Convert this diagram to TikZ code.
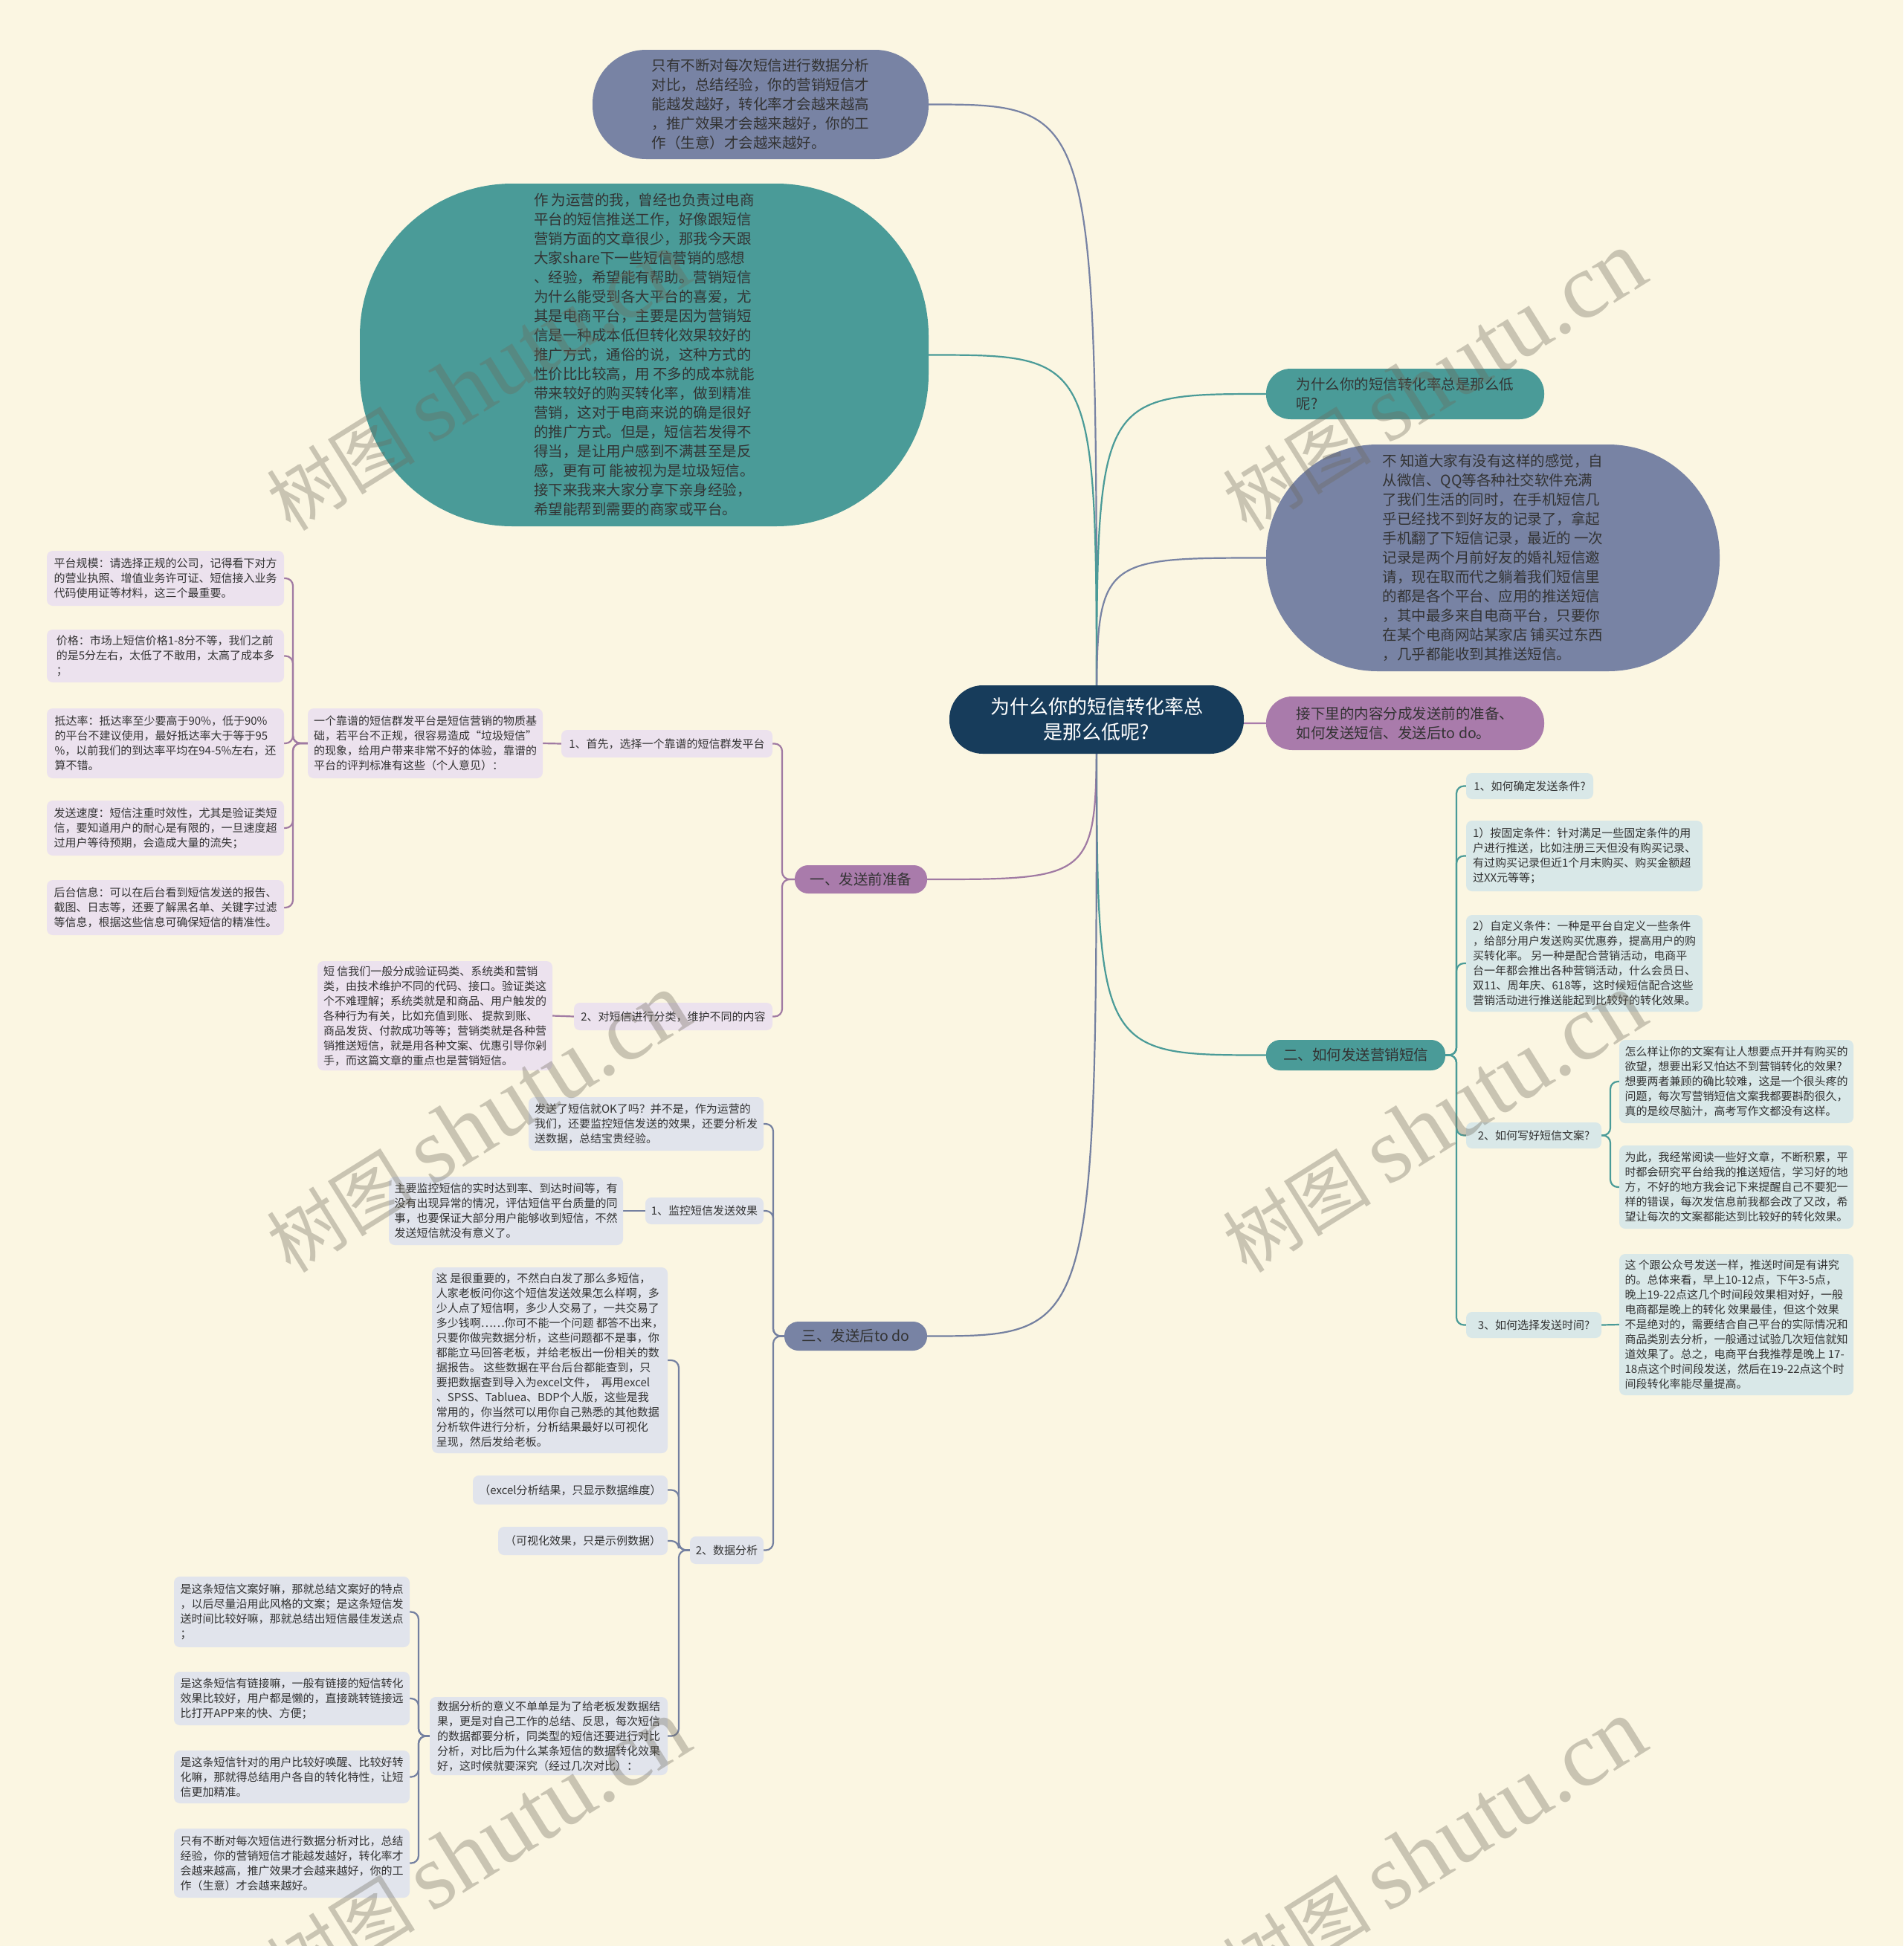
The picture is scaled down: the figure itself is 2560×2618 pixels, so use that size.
\documentclass[tikz,border=0pt]{standalone}
\usepackage{fontspec}
\setmainfont{Noto Sans CJK SC}
\newfontfamily\wmlatin{Liberation Serif}
\definecolor{bgc}{HTML}{FBF6E2}
\definecolor{slatec}{HTML}{7883A4}
\definecolor{tealc}{HTML}{4A9B98}
\definecolor{navyc}{HTML}{173C5B}
\definecolor{purpc}{HTML}{A97BAB}
\definecolor{purpline}{HTML}{A07AA3}
\definecolor{slateline}{HTML}{7480A0}
\definecolor{leafP}{HTML}{ECE2EE}
\definecolor{leafS}{HTML}{E1E4EC}
\definecolor{leafT}{HTML}{D9E8E8}
\definecolor{txt}{HTML}{333333}
\definecolor{wmc}{HTML}{6E695A}
\pgfdeclarelayer{back}\pgfdeclarelayer{bg}\pgfdeclarelayer{fg}\pgfsetlayers{back,bg,main,fg}
\tikzset{
  box/.style={inner sep=0pt, outer sep=0pt, align=left, text=txt},
  bigtxt/.style={font=\fontsize{19.5}{26}\selectfont},
  smtxt/.style={font=\fontsize{15}{20}\selectfont},
  leafp/.style={box, smtxt, fill=leafP, rounded corners=8pt},
  leafs/.style={box, smtxt, fill=leafS, rounded corners=8pt},
  leaft/.style={box, smtxt, fill=leafT, rounded corners=8pt},
  mainline/.style={line width=2.2pt},
  brk/.style={line width=2.2pt, rounded corners=10pt},
  wm/.style={text=wmc, text opacity=0.35, rotate=32, inner sep=0pt}
}
\begin{document}
\begin{tikzpicture}[x=1pt,y=-1pt]
\useasboundingbox (0,0) rectangle (2560,2618);
\begin{pgfonlayer}{back}
\fill[bgc] (0,0) rectangle (2560,2618);
\end{pgfonlayer}

% ---------- central and top-level nodes ----------
\node[box, fill=navyc, text=white, rounded corners=45pt, minimum width=396, minimum height=92, align=center, font=\fontsize{26}{34}\selectfont] (c) at (1475,968) {为什么你的短信转化率总\\是那么低呢?};

\node[box, bigtxt, fill=slatec, rounded corners=72pt, minimum width=452, minimum height=147] (top) at (1023,140.5) {只有不断对每次短信进行数据分析\\对比，总结经验，你的营销短信才\\能越发越好，转化率才会越来越高\\，推广效果才会越来越好，你的工\\作（生意）才会越来越好。};

\node[box, bigtxt, fill=tealc, rounded corners=205pt, minimum width=765, minimum height=461] (ell) at (866.5,477.5) {作 为运营的我，曾经也负责过电商\\平台的短信推送工作，好像跟短信\\营销方面的文章很少，那我今天跟\\大家share下一些短信营销的感想\\、经验，希望能有帮助。营销短信\\为什么能受到各大平台的喜爱，尤\\其是电商平台，主要是因为营销短\\信是一种成本低但转化效果较好的\\推广方式，通俗的说，这种方式的\\性价比比较高，用 不多的成本就能\\带来较好的购买转化率，做到精准\\营销，这对于电商来说的确是很好\\的推广方式。但是，短信若发得不\\得当，是让用户感到不满甚至是反\\感，更有可 能被视为是垃圾短信。\\接下来我来大家分享下亲身经验，\\希望能帮到需要的商家或平台。};

\node[box, bigtxt, fill=tealc, rounded corners=33pt, minimum width=374, minimum height=68] (q) at (1890,530) {为什么你的短信转化率总是那么低\\呢?};

\node[box, bigtxt, fill=slatec, rounded corners=150pt, minimum width=610, minimum height=305] (sl) at (2008,750.5) {不 知道大家有没有这样的感觉，自\\从微信、QQ等各种社交软件充满\\了我们生活的同时，在手机短信几\\乎已经找不到好友的记录了，拿起\\手机翻了下短信记录，最近的 一次\\记录是两个月前好友的婚礼短信邀\\请，现在取而代之躺着我们短信里\\的都是各个平台、应用的推送短信\\，其中最多来自电商平台，只要你\\在某个电商网站某家店 铺买过东西\\，几乎都能收到其推送短信。};

\node[box, bigtxt, fill=purpc, rounded corners=35pt, minimum width=374, minimum height=72] (pp) at (1890,973) {接下里的内容分成发送前的准备、\\如何发送短信、发送后to do。};

\node[box, bigtxt, fill=purpc, rounded corners=18pt, minimum width=178, minimum height=38, align=center] (b1) at (1158,1183) {一、发送前准备};
\node[box, bigtxt, fill=tealc, rounded corners=19pt, minimum width=241, minimum height=41, align=center] (b2) at (1823.5,1419.5) {二、如何发送营销短信};
\node[box, bigtxt, fill=slatec, rounded corners=19pt, minimum width=192, minimum height=39, align=center] (b3) at (1151,1797.5) {三、发送后to do};

% ---------- branch 1 ----------
\node[leafp, minimum width=284, minimum height=37] (a1) at (897,1000.5) {1、首先，选择一个靠谱的短信群发平台};
\node[leafp, minimum width=267, minimum height=37] (a2) at (905.5,1367.5) {2、对短信进行分类，维护不同的内容};
\node[leafp, minimum width=316, minimum height=94] (a1t) at (572,1000) {一个靠谱的短信群发平台是短信营销的物质基\\础，若平台不正规，很容易造成“垃圾短信”\\的现象，给用户带来非常不好的体验，靠谱的\\平台的评判标准有这些（个人意见）：};
\node[leafp, minimum width=319, minimum height=74] (p1) at (222.5,778) {平台规模：请选择正规的公司，记得看下对方\\的营业执照、增值业务许可证、短信接入业务\\代码使用证等材料，这三个最重要。};
\node[leafp, minimum width=319, minimum height=71] (p2) at (222.5,882.5) {价格：市场上短信价格1-8分不等，我们之前\\的是5分左右，太低了不敢用，太高了成本多\\；};
\node[leafp, minimum width=319, minimum height=94] (p3) at (222.5,1000) {抵达率：抵达率至少要高于90\%，低于90\%\\的平台不建议使用，最好抵达率大于等于95\\\%，以前我们的到达率平均在94-5\%左右，还\\算不错。};
\node[leafp, minimum width=319, minimum height=74] (p4) at (222.5,1114) {发送速度：短信注重时效性，尤其是验证类短\\信，要知道用户的耐心是有限的，一旦速度超\\过用户等待预期，会造成大量的流失；};
\node[leafp, minimum width=319, minimum height=74] (p5) at (222.5,1221) {后台信息：可以在后台看到短信发送的报告、\\截图、日志等，还要了解黑名单、关键字过滤\\等信息，根据这些信息可确保短信的精准性。};
\node[leafp, minimum width=316, minimum height=147] (a2t) at (585,1366.5) {短 信我们一般分成验证码类、系统类和营销\\类，由技术维护不同的代码、接口。验证类这\\个不难理解；系统类就是和商品、用户触发的\\各种行为有关，比如充值到账、 提款到账、\\商品发货、付款成功等等；营销类就是各种营\\销推送短信，就是用各种文案、优惠引导你剁\\手，而这篇文章的重点也是营销短信。};

% ---------- branch 3 ----------
\node[leafs, minimum width=316, minimum height=72] (s0) at (869,1512) {发送了短信就OK了吗？并不是，作为运营的\\我们，还要监控短信发送的效果，还要分析发\\送数据，总结宝贵经验。};
\node[leafs, minimum width=159, minimum height=36] (s1) at (947.5,1629) {1、监控短信发送效果};
\node[leafs, minimum width=315, minimum height=92] (s1t) at (680.5,1629) {主要监控短信的实时达到率、到达时间等，有\\没有出现异常的情况，评估短信平台质量的同\\事，也要保证大部分用户能够收到短信，不然\\发送短信就没有意义了。};
\node[leafs, minimum width=99, minimum height=37] (s2) at (977.5,2085.5) {2、数据分析};
\node[leafs, minimum width=317, minimum height=250] (s2a) at (739.5,1830) {这 是很重要的，不然白白发了那么多短信，\\人家老板问你这个短信发送效果怎么样啊，多\\少人点了短信啊，多少人交易了，一共交易了\\多少钱啊……你可不能一个问题 都答不出来，\\只要你做完数据分析，这些问题都不是事，你\\都能立马回答老板，并给老板出一份相关的数\\据报告。 这些数据在平台后台都能查到，只\\要把数据查到导入为excel文件，\ \ 再用excel\\、SPSS、Tabluea、BDP个人版，这些是我\\常用的，你当然可以用你自己熟悉的其他数据\\分析软件进行分析，分析结果最好以可视化\\呈现，然后发给老板。};
\node[leafs, minimum width=262, minimum height=39] (s2b) at (767,2004.5) {（excel分析结果，只显示数据维度）};
\node[leafs, minimum width=228, minimum height=38] (s2c) at (784,2073) {（可视化效果，只是示例数据）};
\node[leafs, minimum width=320, minimum height=105] (s2d) at (738,2335.5) {数据分析的意义不单单是为了给老板发数据结\\果，更是对自己工作的总结、反思，每次短信\\的数据都要分析，同类型的短信还要进行对比\\分析，对比后为什么某条短信的数据转化效果\\好，这时候就要深究（经过几次对比）：};
\node[leafs, minimum width=317, minimum height=95] (d1) at (392.5,2168.5) {是这条短信文案好嘛，那就总结文案好的特点\\，以后尽量沿用此风格的文案；是这条短信发\\送时间比较好嘛，那就总结出短信最佳发送点\\；};
\node[leafs, minimum width=317, minimum height=72] (d2) at (392.5,2285) {是这条短信有链接嘛，一般有链接的短信转化\\效果比较好，用户都是懒的，直接跳转链接远\\比打开APP来的快、方便；};
\node[leafs, minimum width=317, minimum height=71] (d3) at (392.5,2390.5) {是这条短信针对的用户比较好唤醒、比较好转\\化嘛，那就得总结用户各自的转化特性，让短\\信更加精准。};
\node[leafs, minimum width=317, minimum height=93] (d4) at (392.5,2506.5) {只有不断对每次短信进行数据分析对比，总结\\经验，你的营销短信才能越发越好，转化率才\\会越来越高，推广效果才会越来越好，你的工\\作（生意）才会越来越好。};

% ---------- branch 2 ----------
\node[leaft, minimum width=171, minimum height=35] (t1) at (2057.5,1057.5) {1、如何确定发送条件?};
\node[leaft, minimum width=318, minimum height=95] (t2) at (2131,1151.5) {1）按固定条件：针对满足一些固定条件的用\\户进行推送，比如注册三天但没有购买记录、\\有过购买记录但近1个月末购买、购买金额超\\过XX元等等；};
\node[leaft, minimum width=318, minimum height=130] (t3) at (2131,1296) {2）自定义条件：一种是平台自定义一些条件\\，给部分用户发送购买优惠券，提高用户的购\\买转化率。 另一种是配合营销活动，电商平\\台一年都会推出各种营销活动，什么会员日、\\双11、周年庆、618等，这时候短信配合这些\\营销活动进行推送能起到比较好的转化效果。};
\node[leaft, minimum width=182, minimum height=35] (t4) at (2063,1527.5) {2、如何写好短信文案?};
\node[leaft, minimum width=315, minimum height=112] (t4a) at (2335.5,1455) {怎么样让你的文案有让人想要点开并有购买的\\欲望，想要出彩又怕达不到营销转化的效果?\\想要两者兼顾的确比较难，这是一个很头疼的\\问题，每次写营销短信文案我都要斟酌很久，\\真的是绞尽脑汁，高考写作文都没有这样。};
\node[leaft, minimum width=315, minimum height=112] (t4b) at (2335.5,1597) {为此，我经常阅读一些好文章，不断积累，平\\时都会研究平台给我的推送短信，学习好的地\\方，不好的地方我会记下来提醒自己不要犯一\\样的错误，每次发信息前我都会改了又改，希\\望让每次的文案都能达到比较好的转化效果。};
\node[leaft, minimum width=182, minimum height=35] (t5) at (2063,1782.5) {3、如何选择发送时间?};
\node[leaft, minimum width=315, minimum height=190] (t5a) at (2335.5,1782) {这 个跟公众号发送一样，推送时间是有讲究\\的。总体来看，早上10-12点，下午3-5点，\\晚上19-22点这几个时间段效果相对好，一般\\电商都是晚上的转化 效果最佳，但这个效果\\不是绝对的，需要结合自己平台的实际情况和\\商品类别去分析，一般通过试验几次短信就知\\道效果了。总之，电商平台我推荐是晚上 17-\\18点这个时间段发送，然后在19-22点这个时\\间段转化率能尽量提高。};

% ---------- connectors ----------
\begin{pgfonlayer}{bg}
\draw[mainline, slatec] (c.center) .. controls (c.center |- top.east) and (c.center |- top.east) .. (top.east);
\draw[mainline, tealc] (c.center) .. controls (c.center |- ell.east) and (c.center |- ell.east) .. (ell.east);
\draw[mainline, tealc] (c.center) .. controls (c.center |- q.west) and (c.center |- q.west) .. (q.west);
\draw[mainline, slatec] (c.center) .. controls (c.center |- sl.west) and (c.center |- sl.west) .. (sl.west);
\draw[mainline, purpc] (c.center) .. controls (c.center |- pp.west) and (c.center |- pp.west) .. (pp.west);
\draw[mainline, purpline] (c.center) .. controls (c.center |- b1.east) and (c.center |- b1.east) .. (b1.east);
\draw[mainline, tealc] (c.center) .. controls (c.center |- b2.west) and (c.center |- b2.west) .. (b2.west);
\draw[mainline, slateline] (c.center) .. controls (c.center |- b3.east) and (c.center |- b3.east) .. (b3.east);

% branch 1
\foreach \k in {a1,a2} \draw[brk, purpline] (b1.west) -- ++(-17,0) |- (\k.east);
\draw[brk, purpline] (a1.west) -- (a1t.east);
\foreach \k in {p1,p2,p3,p4,p5} \draw[brk, purpline] (a1t.west) -- ++(-20,0) |- (\k.east);
\draw[brk, purpline] (a2.west) -- (a2t.east);

% branch 3
\foreach \k in {s0,s1,s2} \draw[brk, slateline] (b3.west) -- ++(-15,0) |- (\k.east);
\draw[brk, slateline] (s1.west) -- (s1t.east);
\foreach \k in {s2a,s2b,s2c,s2d} \draw[brk, slateline] (s2.west) -- ++(-15,0) |- (\k.east);
\foreach \k in {d1,d2,d3,d4} \draw[brk, slateline] (s2d.west) -- ++(-15,0) |- (\k.east);

% branch 2
\foreach \k in {t1,t2,t3,t4,t5} \draw[brk, tealc] (b2.east) -- ++(15,0) |- (\k.west);
\foreach \k in {t4a,t4b} \draw[brk, tealc] (t4.east) -- ++(12,0) |- (\k.west);
\draw[brk, tealc] (t5.east) -- (t5a.west);
\end{pgfonlayer}

% ---------- watermarks ----------
\begin{pgfonlayer}{fg}
\foreach \wx/\wy [count=\i] in {643/513, 1929/513, 643/1511, 1929/1511, 643/2488, 1929/2488}
  \node[wm] (wm\i) at (\wx,\wy) {\fontsize{100}{100}\selectfont 树图 {\wmlatin\fontsize{125}{125}\selectfont shutu.cn}};
\end{pgfonlayer}
\end{tikzpicture}
\end{document}
